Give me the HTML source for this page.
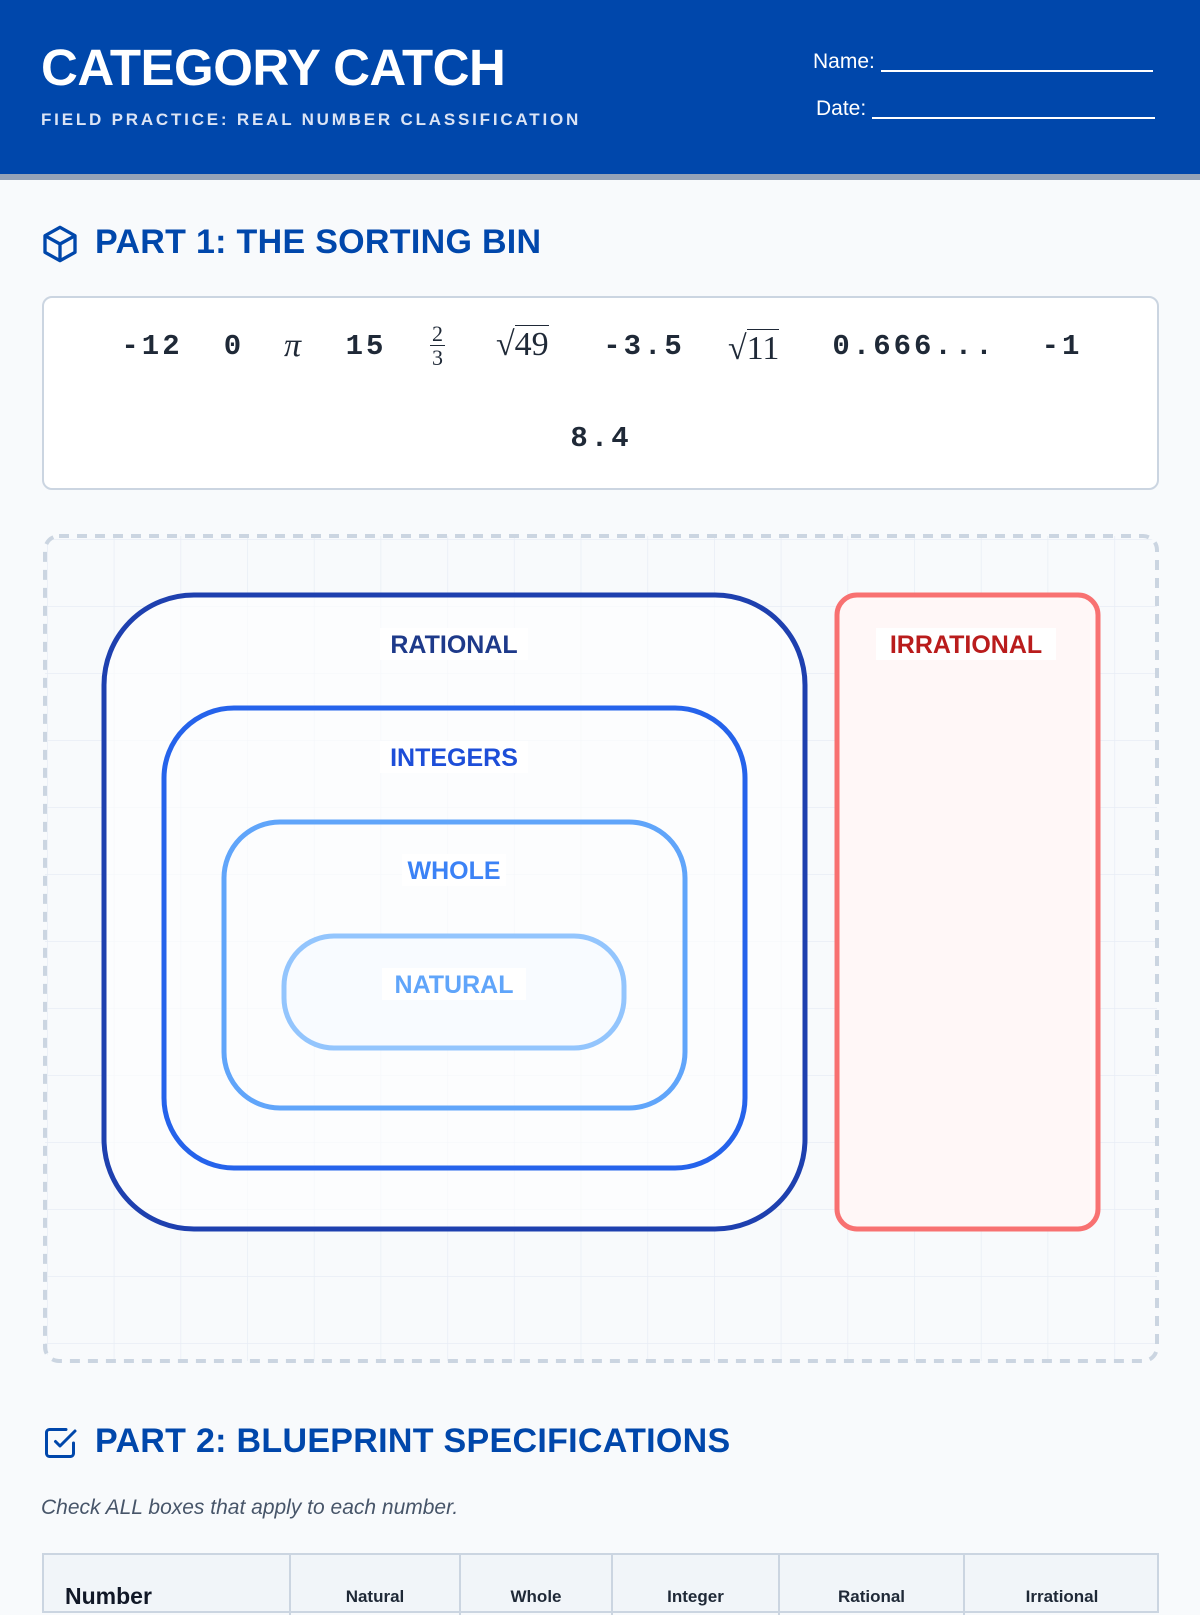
<!DOCTYPE html>
<html><head><meta charset="utf-8"><style>
*{margin:0;padding:0;box-sizing:border-box}
body{width:1200px;height:1600px;background:#f8fafc;font-family:"Liberation Sans",sans-serif;position:relative;overflow:hidden}
.hdr{position:absolute;left:0;top:0;width:1200px;background:#0047ab;border-bottom:6px solid #94a3b8;height:180px}
.t1{position:absolute;left:41px;top:38px;font-size:51px;font-weight:bold;color:#fff;letter-spacing:-0.5px}
.t2{position:absolute;left:41px;top:110px;font-size:17px;font-weight:bold;color:#dbe4f5;letter-spacing:2.8px}
.nm{position:absolute;color:#fff;font-size:21px}
.ln{display:inline-block;border-bottom:2px solid #fff;vertical-align:-4px;height:20px}
h2{position:absolute;left:95px;font-size:34px;font-weight:bold;color:#0047ab;letter-spacing:0.3px}
.nums{position:absolute;left:42px;top:296px;width:1117px;height:194px;background:#fff;border:2px solid #cbd5e1;border-radius:10px}
.n{position:absolute;font-family:"Liberation Mono",monospace;font-weight:bold;font-size:29px;color:#1f2937;transform:translateX(-50%);letter-spacing:3px}
.s{position:absolute;font-family:"Liberation Serif",serif;font-size:34px;color:#1f2937}
.tbl{position:absolute;left:42px;top:1553px;width:1117px;height:60px;background:#f1f5f9;border:2px solid #cbd5e1}
.th{position:absolute;top:0;height:60px;border-left:2px solid #cbd5e1;text-align:center;font-weight:bold;font-size:17px;color:#1f2937;padding-top:32px}
</style></head><body>
<div class="hdr"></div>
<div class="t1">CATEGORY CATCH</div>
<div class="t2">FIELD PRACTICE: REAL NUMBER CLASSIFICATION</div>
<div class="nm" style="left:813px;top:50px">Name: <span class="ln" style="width:272px"></span></div>
<div class="nm" style="left:816px;top:97px">Date: <span class="ln" style="width:283px"></span></div>

<svg style="position:absolute;left:40px;top:224px" width="40" height="40" viewBox="0 0 24 24" fill="none" stroke="#0047ab" stroke-width="2" stroke-linejoin="round"><path d="M12 2l9 5v10l-9 5-9-5V7z"/><path d="M3 7l9 5 9-5M12 12v10"/></svg>
<h2 style="top:223px">PART 1: THE SORTING BIN</h2>

<div class="nums">
<div class="n" style="left:108px;top:32px">-12</div>
<div class="n" style="left:190px;top:32px">0</div>
<div class="s" style="left:240px;top:29px;font-style:italic">π</div>
<div class="n" style="left:322px;top:32px">15</div>
<div style="position:absolute;left:386px;top:24px;font-family:'Liberation Serif',serif;font-size:22px;line-height:23px;text-align:center;color:#1f2937"><div style="border-bottom:1.5px solid #1f2937;padding:0 2px">2</div><div>3</div></div>
<div class="s" style="left:452px;top:28px">√<span style="border-top:1.5px solid #1f2937">49</span></div>
<div class="n" style="left:600px;top:32px">-3.5</div>
<div class="s" style="left:684px;top:32px">√<span style="border-top:1.5px solid #1f2937">11</span></div>
<div class="n" style="left:870px;top:32px">0.666...</div>
<div class="n" style="left:1018px;top:32px">-1</div>
<div class="n" style="left:557px;top:124px">8.4</div>
</div>

<svg style="position:absolute;left:0;top:0" width="1200" height="1400">
<defs><pattern id="g" x="47" y="539" width="66.7" height="67" patternUnits="userSpaceOnUse"><path d="M0 0V67M0 0H66.7" stroke="#e8edf5" stroke-width="1.5" fill="none"/></pattern></defs>
<rect x="45" y="536" width="1112" height="825" rx="14" fill="url(#g)" stroke="#cbd5e1" stroke-width="4" stroke-dasharray="10 8"/>
<rect x="104" y="595" width="701" height="634" rx="90" fill="#fff" fill-opacity="0.6" stroke="#1e40af" stroke-width="5"/>
<rect x="164" y="708" width="581" height="460" rx="70" fill="none" stroke="#2563eb" stroke-width="5"/>
<rect x="224" y="822" width="461" height="286" rx="56" fill="none" stroke="#60a5fa" stroke-width="5"/>
<rect x="284" y="936" width="340" height="112" rx="50" fill="#f8fbff" stroke="#93c5fd" stroke-width="5"/>
<rect x="837" y="595" width="261" height="634" rx="20" fill="#fff7f7" stroke="#f87171" stroke-width="5"/>
<g font-family="Liberation Sans" font-weight="bold" font-size="25" text-anchor="middle">
<rect x="380" y="628" width="148" height="32" fill="#fff"/><text x="454" y="653" fill="#1e3a8a">RATIONAL</text>
<rect x="380" y="741" width="148" height="32" fill="#fff"/><text x="454" y="766" fill="#1d4ed8">INTEGERS</text>
<rect x="402" y="854" width="104" height="32" fill="#fff"/><text x="454" y="879" fill="#3b82f6">WHOLE</text>
<rect x="382" y="968" width="144" height="32" fill="#fff"/><text x="454" y="993" fill="#60a5fa">NATURAL</text>
<rect x="876" y="628" width="180" height="32" fill="#fff"/><text x="966" y="653" fill="#b91c1c">IRRATIONAL</text>
</g></svg>

<svg style="position:absolute;left:42px;top:1424px" width="36" height="38" viewBox="0 0 24 24" fill="none" stroke="#0047ab" stroke-width="2" stroke-linecap="round" stroke-linejoin="round"><path d="M9 11l3 3L22 4"/><path d="M21 12v7a2 2 0 0 1-2 2H5a2 2 0 0 1-2-2V5a2 2 0 0 1 2-2h11"/></svg>
<h2 style="top:1422px">PART 2: BLUEPRINT SPECIFICATIONS</h2>
<div style="position:absolute;left:41px;top:1496px;font-size:21px;font-style:italic;color:#475569">Check ALL boxes that apply to each number.</div>
<div class="tbl">
<div style="position:absolute;left:21px;top:28px;font-weight:bold;font-size:23px;color:#111827">Number</div>
<div class="th" style="left:245px;width:170px">Natural</div>
<div class="th" style="left:415px;width:152px">Whole</div>
<div class="th" style="left:567px;width:167px">Integer</div>
<div class="th" style="left:734px;width:185px">Rational</div>
<div class="th" style="left:919px;width:196px">Irrational</div>
</div>
</body></html>
